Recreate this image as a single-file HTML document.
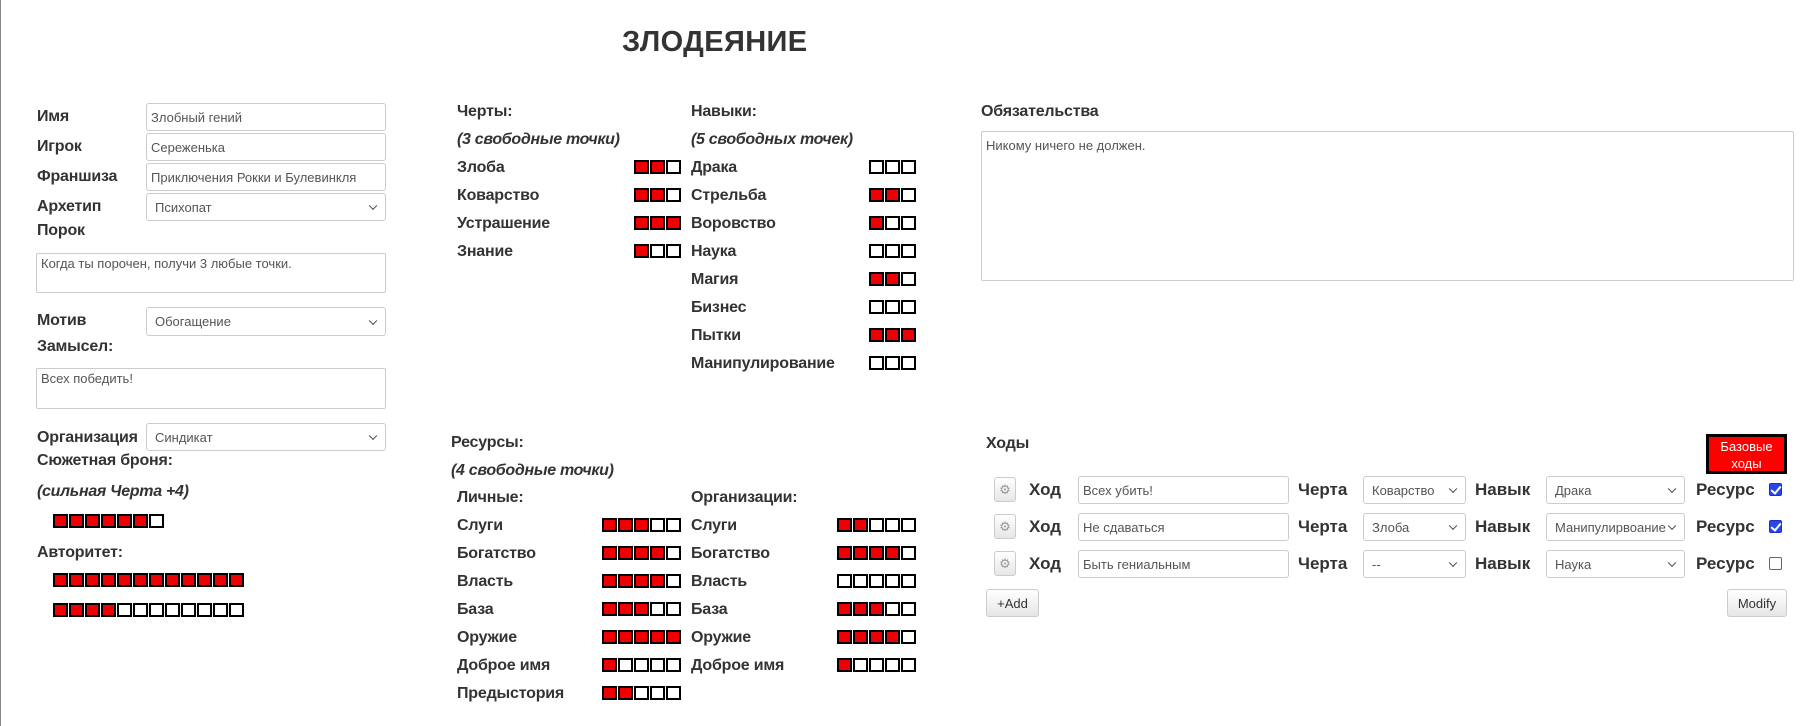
<!DOCTYPE html>
<html><head><meta charset="utf-8"><style>
*{box-sizing:border-box}
body{margin:0;width:1818px;height:726px;position:relative;background:#fff;font-family:"Liberation Sans","DejaVu Sans",sans-serif;color:#333;overflow:hidden}
.vl{position:absolute;left:0;top:0;width:1px;height:726px;background:#888}
.a{position:absolute;white-space:nowrap}
.l{font-weight:bold;font-size:16px;line-height:22px;letter-spacing:-0.2px}
.i{font-style:italic;font-weight:bold;font-size:16px;line-height:22px;letter-spacing:-0.3px}
.inp{position:absolute;border:1px solid #ccc;border-radius:3px;font-size:13px;color:#555;padding:0 4px;display:flex;align-items:center;background:#fff}
.ta{align-items:flex-start;padding-top:2px;border-radius:2px}
.sel{padding-left:8px}
.sel:after{content:"";position:absolute;right:9px;top:50%;width:5px;height:5px;border-right:1.5px solid #444;border-bottom:1.5px solid #444;transform:translateY(-70%) rotate(45deg)}
.bx{position:absolute;display:flex;gap:1px}
.bx span{width:15px;height:14px;border:2px solid #000;background:#fff;display:block}
.bx span.r{background:#e00}
.btn{position:absolute;border:1px solid #ccc;border-radius:3px;background:linear-gradient(#fff,#e6e6e6);font-size:13px;color:#333;display:flex;align-items:center;justify-content:center}
.cb{position:absolute;width:13px;height:13px;border-radius:2px}
.cb.on{background:#2a45e8;border:1px solid #1a30c0}
.cb.on:after{content:"";position:absolute;left:3px;top:0px;width:4px;height:8px;border-right:2px solid #fff;border-bottom:2px solid #fff;transform:rotate(40deg)}
.cb.off{border:1px solid #666;background:#fff}
.ml{font-weight:bold;font-size:17px;line-height:22px}
</style></head><body>
<div class="vl"></div>
<div class="a" style="left:622px;top:25px;font-size:29px;font-weight:bold;line-height:34px;letter-spacing:0.4px">ЗЛОДЕЯНИЕ</div>

<!-- left column -->
<div class="a l" style="left:37px;top:106px">Имя</div>
<div class="inp" style="left:146px;top:103px;width:240px;height:28px">Злобный гений</div>
<div class="a l" style="left:37px;top:136px">Игрок</div>
<div class="inp" style="left:146px;top:133px;width:240px;height:28px">Сереженька</div>
<div class="a l" style="left:37px;top:166px">Франшиза</div>
<div class="inp" style="left:146px;top:163px;width:240px;height:28px">Приключения Рокки и Булевинкля</div>
<div class="a l" style="left:37px;top:196px">Архетип</div>
<div class="inp sel" style="left:146px;top:193px;width:240px;height:28px">Психопат</div>
<div class="a l" style="left:37px;top:220px">Порок</div>
<div class="inp ta" style="left:36px;top:253px;width:350px;height:40px">Когда ты порочен, получи 3 любые точки.</div>
<div class="a l" style="left:37px;top:310px">Мотив</div>
<div class="inp sel" style="left:146px;top:307px;width:240px;height:29px">Обогащение</div>
<div class="a l" style="left:37px;top:336px">Замысел:</div>
<div class="inp ta" style="left:36px;top:368px;width:350px;height:41px">Всех победить!</div>
<div class="a l" style="left:37px;top:427px">Организация</div>
<div class="inp sel" style="left:146px;top:423px;width:240px;height:28px">Синдикат</div>
<div class="a l" style="left:37px;top:450px">Сюжетная броня:</div>
<div class="a i" style="left:37px;top:481px">(сильная Черта +4)</div>
<div class="bx" style="left:53px;top:514px"><span class="r"></span><span class="r"></span><span class="r"></span><span class="r"></span><span class="r"></span><span class="r"></span><span></span></div>
<div class="a l" style="left:37px;top:542px">Авторитет:</div>
<div class="bx" style="left:53px;top:573px"><span class="r"></span><span class="r"></span><span class="r"></span><span class="r"></span><span class="r"></span><span class="r"></span><span class="r"></span><span class="r"></span><span class="r"></span><span class="r"></span><span class="r"></span><span class="r"></span></div>
<div class="bx" style="left:53px;top:603px"><span class="r"></span><span class="r"></span><span class="r"></span><span class="r"></span><span></span><span></span><span></span><span></span><span></span><span></span><span></span><span></span></div>

<!-- traits -->
<div class="a l" style="left:457px;top:101px">Черты:</div>
<div class="a i" style="left:457px;top:129px">(3 свободные точки)</div>
<div class="a l" style="left:457px;top:157px">Злоба</div>
<div class="bx" style="left:634px;top:160px"><span class="r"></span><span class="r"></span><span></span></div>
<div class="a l" style="left:457px;top:185px">Коварство</div>
<div class="bx" style="left:634px;top:188px"><span class="r"></span><span class="r"></span><span></span></div>
<div class="a l" style="left:457px;top:213px">Устрашение</div>
<div class="bx" style="left:634px;top:216px"><span class="r"></span><span class="r"></span><span class="r"></span></div>
<div class="a l" style="left:457px;top:241px">Знание</div>
<div class="bx" style="left:634px;top:244px"><span class="r"></span><span></span><span></span></div>

<!-- skills -->
<div class="a l" style="left:691px;top:101px">Навыки:</div>
<div class="a i" style="left:691px;top:129px">(5 свободных точек)</div>
<div class="a l" style="left:691px;top:157px">Драка</div>
<div class="bx" style="left:869px;top:160px"><span></span><span></span><span></span></div>
<div class="a l" style="left:691px;top:185px">Стрельба</div>
<div class="bx" style="left:869px;top:188px"><span class="r"></span><span class="r"></span><span></span></div>
<div class="a l" style="left:691px;top:213px">Воровство</div>
<div class="bx" style="left:869px;top:216px"><span class="r"></span><span></span><span></span></div>
<div class="a l" style="left:691px;top:241px">Наука</div>
<div class="bx" style="left:869px;top:244px"><span></span><span></span><span></span></div>
<div class="a l" style="left:691px;top:269px">Магия</div>
<div class="bx" style="left:869px;top:272px"><span class="r"></span><span class="r"></span><span></span></div>
<div class="a l" style="left:691px;top:297px">Бизнес</div>
<div class="bx" style="left:869px;top:300px"><span></span><span></span><span></span></div>
<div class="a l" style="left:691px;top:325px">Пытки</div>
<div class="bx" style="left:869px;top:328px"><span class="r"></span><span class="r"></span><span class="r"></span></div>
<div class="a l" style="left:691px;top:353px">Манипулирование</div>
<div class="bx" style="left:869px;top:356px"><span></span><span></span><span></span></div>

<!-- resources -->
<div class="a l" style="left:451px;top:432px">Ресурсы:</div>
<div class="a i" style="left:451px;top:460px">(4 свободные точки)</div>
<div class="a l" style="left:457px;top:487px">Личные:</div>
<div class="a l" style="left:691px;top:487px">Организации:</div>

<div class="a l" style="left:457px;top:515px">Слуги</div>
<div class="bx" style="left:602px;top:518px"><span class="r"></span><span class="r"></span><span class="r"></span><span></span><span></span></div>
<div class="a l" style="left:691px;top:515px">Слуги</div>
<div class="bx" style="left:837px;top:518px"><span class="r"></span><span class="r"></span><span></span><span></span><span></span></div>

<div class="a l" style="left:457px;top:543px">Богатство</div>
<div class="bx" style="left:602px;top:546px"><span class="r"></span><span class="r"></span><span class="r"></span><span class="r"></span><span></span></div>
<div class="a l" style="left:691px;top:543px">Богатство</div>
<div class="bx" style="left:837px;top:546px"><span class="r"></span><span class="r"></span><span class="r"></span><span class="r"></span><span></span></div>

<div class="a l" style="left:457px;top:571px">Власть</div>
<div class="bx" style="left:602px;top:574px"><span class="r"></span><span class="r"></span><span class="r"></span><span class="r"></span><span></span></div>
<div class="a l" style="left:691px;top:571px">Власть</div>
<div class="bx" style="left:837px;top:574px"><span></span><span></span><span></span><span></span><span></span></div>

<div class="a l" style="left:457px;top:599px">База</div>
<div class="bx" style="left:602px;top:602px"><span class="r"></span><span class="r"></span><span class="r"></span><span></span><span></span></div>
<div class="a l" style="left:691px;top:599px">База</div>
<div class="bx" style="left:837px;top:602px"><span class="r"></span><span class="r"></span><span class="r"></span><span></span><span></span></div>

<div class="a l" style="left:457px;top:627px">Оружие</div>
<div class="bx" style="left:602px;top:630px"><span class="r"></span><span class="r"></span><span class="r"></span><span class="r"></span><span class="r"></span></div>
<div class="a l" style="left:691px;top:627px">Оружие</div>
<div class="bx" style="left:837px;top:630px"><span class="r"></span><span class="r"></span><span class="r"></span><span class="r"></span><span></span></div>

<div class="a l" style="left:457px;top:655px">Доброе имя</div>
<div class="bx" style="left:602px;top:658px"><span class="r"></span><span></span><span></span><span></span><span></span></div>
<div class="a l" style="left:691px;top:655px">Доброе имя</div>
<div class="bx" style="left:837px;top:658px"><span class="r"></span><span></span><span></span><span></span><span></span></div>

<div class="a l" style="left:457px;top:683px">Предыстория</div>
<div class="bx" style="left:602px;top:686px"><span class="r"></span><span class="r"></span><span></span><span></span><span></span></div>

<!-- obligations -->
<div class="a l" style="left:981px;top:101px">Обязательства</div>
<div class="inp ta" style="left:981px;top:131px;width:813px;height:150px;padding-top:6px">Никому ничего не должен.</div>

<!-- moves -->
<div class="a l" style="left:986px;top:433px">Ходы</div>
<div class="a" style="left:1706px;top:434px;width:81px;height:40px;background:#f00;border:3px solid #000;color:#fff;font-size:13px;line-height:17px;text-align:center;padding-top:1px">Базовые<br>ходы</div>

<div class="btn" style="left:994px;top:477px;width:22px;height:25px;color:#999">⚙</div>
<div class="a ml" style="left:1029px;top:479px">Ход</div>
<div class="inp" style="left:1078px;top:476px;width:211px;height:28px">Всех убить!</div>
<div class="a ml" style="left:1298px;top:479px">Черта</div>
<div class="inp sel" style="left:1363px;top:476px;width:103px;height:28px">Коварство</div>
<div class="a ml" style="left:1475px;top:479px">Навык</div>
<div class="inp sel" style="left:1546px;top:476px;width:139px;height:28px">Драка</div>
<div class="a ml" style="left:1696px;top:479px">Ресурс</div>
<div class="cb on" style="left:1769px;top:483px"></div>

<div class="btn" style="left:994px;top:514px;width:22px;height:25px;color:#999">⚙</div>
<div class="a ml" style="left:1029px;top:516px">Ход</div>
<div class="inp" style="left:1078px;top:513px;width:211px;height:28px">Не сдаваться</div>
<div class="a ml" style="left:1298px;top:516px">Черта</div>
<div class="inp sel" style="left:1363px;top:513px;width:103px;height:28px">Злоба</div>
<div class="a ml" style="left:1475px;top:516px">Навык</div>
<div class="inp sel" style="left:1546px;top:513px;width:139px;height:28px">Манипулирвоание</div>
<div class="a ml" style="left:1696px;top:516px">Ресурс</div>
<div class="cb on" style="left:1769px;top:520px"></div>

<div class="btn" style="left:994px;top:551px;width:22px;height:25px;color:#999">⚙</div>
<div class="a ml" style="left:1029px;top:553px">Ход</div>
<div class="inp" style="left:1078px;top:550px;width:211px;height:28px">Быть гениальным</div>
<div class="a ml" style="left:1298px;top:553px">Черта</div>
<div class="inp sel" style="left:1363px;top:550px;width:103px;height:28px">--</div>
<div class="a ml" style="left:1475px;top:553px">Навык</div>
<div class="inp sel" style="left:1546px;top:550px;width:139px;height:28px">Наука</div>
<div class="a ml" style="left:1696px;top:553px">Ресурс</div>
<div class="cb off" style="left:1769px;top:557px"></div>

<div class="btn" style="left:986px;top:589px;width:53px;height:28px">+Add</div>
<div class="btn" style="left:1727px;top:589px;width:60px;height:28px">Modify</div>
</body></html>
